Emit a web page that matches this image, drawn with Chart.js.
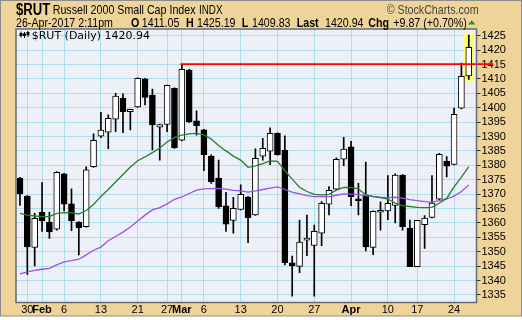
<!DOCTYPE html>
<html>
<head>
<meta charset="utf-8">
<script src="https://cdn.jsdelivr.net/npm/chart.js@4.4.1/dist/chart.umd.min.js"></script>
<style>
  html, body { margin: 0; padding: 0; background: #fff; }
  #wrap { width: 522px; height: 320px; }
</style>
</head>
<body>
<div id="wrap"><canvas id="rut-chart" width="522" height="320"></canvas></div>
<script>
// =============================
// $RUT DAILY CANDLES
// =============================
const dates = ['Jan 27','Jan 30','Jan 31','Feb 1','Feb 2','Feb 3','Feb 6','Feb 7','Feb 8','Feb 9','Feb 10',
    'Feb 13','Feb 14','Feb 15','Feb 16','Feb 17','Feb 21','Feb 22','Feb 23','Feb 24','Feb 27','Feb 28',
    'Mar 1','Mar 2','Mar 3','Mar 6','Mar 7','Mar 8','Mar 9','Mar 10','Mar 13','Mar 14','Mar 15','Mar 16','Mar 17',
    'Mar 20','Mar 21','Mar 22','Mar 23','Mar 24','Mar 27','Mar 28','Mar 29','Mar 30','Mar 31',
    'Apr 3','Apr 4','Apr 5','Apr 6','Apr 7','Apr 10','Apr 11','Apr 12','Apr 13',
    'Apr 17','Apr 18','Apr 19','Apr 20','Apr 21','Apr 24','Apr 25','Apr 26'];

const opens = [1375.6,1369.3,1351.5,1363.7,1360.2,1357.8,1377.0,1366.6,1360.3,1358.7,
    1379.5,1390.1,1391.5,1396.0,1403.3,1398.6,1400.3,1410.0,1404.4,1393.2,
    1394.2,1406.7,1388.7,1413.1,1395.4,1392.3,1383.2,1375.6,1365.9,1360.9,
    1364.7,1369.0,1362.8,1383.2,1384.9,1391.1,1385.3,1346.1,1344.9,1354.0,
    1352.2,1356.4,1366.5,1371.7,1382.1,1386.4,1368.4,1369.7,1351.5,1363.7,
    1364.2,1366.1,1376.6,1358.2,1344.8,1359.4,1361.9,1368.2,1381.4,1380.3,
    1399.8,1411.05];
const highs = [1375.8,1369.5,1363.3,1374.0,1363.7,1377.8,1377.2,1371.8,1360.5,1379.5,
    1390.9,1398.4,1397.5,1405.0,1404.8,1399.5,1410.4,1410.2,1406.5,1394.3,
    1407.9,1406.9,1415.1,1413.3,1398.9,1392.5,1383.6,1381.8,1370.6,1368.9,
    1373.2,1369.2,1385.7,1389.4,1393.0,1391.3,1390.2,1348.5,1361.0,1362.7,
    1359.2,1367.4,1372.6,1382.6,1389.7,1388.3,1373.7,1381.1,1364.2,1367.3,
    1376.4,1377.0,1376.8,1361.0,1360.9,1362.5,1376.4,1384.2,1383.0,1399.9,
    1415.5,1425.19];
const lows = [1366.1,1342.1,1345.1,1357.0,1354.6,1357.5,1364.2,1357.3,1348.9,1358.5,
    1379.3,1389.6,1385.8,1391.7,1391.3,1392.3,1400.1,1401.0,1385.3,1381.8,
    1391.7,1385.9,1388.5,1394.9,1390.5,1378.1,1373.7,1365.0,1357.0,1356.4,
    1364.5,1353.1,1362.6,1381.8,1380.2,1383.5,1345.4,1334.6,1342.7,1348.6,
    1334.6,1352.1,1362.8,1371.5,1379.9,1366.0,1362.8,1350.3,1349.0,1357.5,
    1361.1,1360.0,1357.5,1344.8,1344.8,1351.1,1361.7,1368.0,1376.0,1380.1,
    1399.6,1409.83];
const closes = [1370.1,1351.7,1361.6,1360.8,1356.9,1377.6,1366.5,1360.8,1358.3,1378.4,
    1388.7,1392.2,1396.3,1404.0,1398.6,1399.4,1410.2,1403.6,1394.0,1394.1,
    1407.8,1386.1,1413.3,1395.1,1393.8,1383.7,1374.3,1365.6,1359.6,1365.1,
    1369.9,1361.8,1382.4,1385.9,1391.1,1383.7,1346.2,1345.1,1353.3,1354.5,
    1357.1,1366.8,1371.3,1382.1,1385.6,1369.1,1367.7,1351.7,1364.0,1364.4,
    1366.8,1376.6,1358.7,1344.8,1360.9,1361.7,1366.9,1383.8,1379.7,1397.7,
    1410.9,1420.94];

// moving averages (green = 20 day, purple = 50 day)
const ma20 = [1363.3,1362.7,1362.4,1362.2,1362.2,1363.3,1363.6,1363.5,1363.1,1364.3,
    1366.4,1369.2,1371.6,1374.2,1376.8,1379.4,1381.6,1382.9,1384.4,1386.0,
    1388.1,1389.7,1390.5,1390.9,1391.1,1390.6,1389.1,1386.9,1385.0,1383.2,
    1381.8,1379.3,1379.8,1380.6,1381.5,1381.4,1378.2,1375.2,1372.4,1370.9,
    1369.9,1369.7,1369.9,1371.4,1372.3,1372.3,1371.8,1369.7,1369.2,1368.8,
    1368.3,1366.9,1366.0,1365.7,1365.4,1365.3,1365.4,1366.9,1368.5,1372.5,
    1375.9,1379.5];
const ma50 = [1342.3,1343.0,1343.5,1343.9,1344.2,1345.4,1346.5,1346.9,1347.4,1348.9,
    1350.5,1351.6,1353.8,1355.3,1356.8,1358.6,1360.7,1362.7,1364.5,1365.3,
    1366.6,1368.2,1369.0,1370.2,1371.4,1371.8,1371.9,1372.0,1371.7,1371.3,
    1371.1,1370.7,1371.1,1371.6,1372.1,1372.5,1371.6,1370.7,1370.1,1369.5,
    1369.1,1369.1,1369.1,1369.6,1370.1,1370.0,1369.8,1369.5,1369.1,1368.9,
    1368.8,1368.9,1368.6,1368.1,1367.7,1367.4,1367.2,1367.7,1368.3,1369.3,
    1370.9,1373.2];

// x axis labels
const tickDates = ['Jan 30','Feb 1','Feb 6','Feb 13','Feb 21','Feb 27','Mar 1','Mar 6','Mar 13','Mar 20','Mar 27','Apr 3','Apr 10','Apr 17','Apr 24'];
const tickText = ['30','Feb','6','13','21','27','Mar','6','13','20','27','Apr','10','17','24'];
const monthText = ['Feb','Mar','Apr'];
// y axis labels
const yTicks = [1335,1340,1345,1350,1355,1360,1365,1370,1375,1380,1385,1390,1395,1400,1405,1410,1415,1420,1425];

// resistance line at the Mar 1 high, drawn from just before Mar 1 to past the last day
const resistDay = 'Mar 1';
const resistFrom = -0.2;   // days relative to resistDay
const resistTo = 64.3;
const chgText = '+9.87 (+0.70%)';

const SANS = '"Liberation Sans", Arial, sans-serif';
const SQUEEZE = 0.82;   // no narrow face installed, so header text is squeezed
const gridColor = 'rgb(172, 222, 236)';

const tickIdx = tickDates.map(d => dates.indexOf(d));
const last = dates.length - 1;
const resistIdx = dates.indexOf(resistDay);
const resistLevel = highs[resistIdx];

const bodies = dates.map((d, i) => ({ x: i, y: [opens[i], closes[i]] }));
const wicks = dates.map((d, i) => ({ x: i, y: [lows[i], highs[i]] }));
const bodyFill = dates.map((d, i) => closes[i] >= opens[i] ? '#ffffff' : '#000000');

const framePlugin = {
    id: 'frame',
    beforeDraw(chart) {
        const { ctx, chartArea: a, width, height } = chart;
        ctx.save();
        ctx.fillStyle = '#ffffff';
        ctx.fillRect(0, 0, width, height);
        ctx.fillStyle = '#efd49a';
        ctx.fillRect(0, 0, width, 316);
        ctx.strokeStyle = '#8c8c8c';
        ctx.lineWidth = 1;
        ctx.strokeRect(0.5, 0.5, width - 1, 315.5);
        ctx.fillStyle = '#eef0f8';
        ctx.fillRect(a.left, a.top, a.right - a.left, a.bottom - a.top);
        ctx.restore();
    },
    afterDraw(chart) {
        const { ctx, chartArea: a } = chart;
        ctx.save();
        // plot border
        ctx.strokeStyle = '#666a78';
        ctx.lineWidth = 1.5;
        ctx.strokeRect(a.left, a.top, a.right - a.left, a.bottom - a.top);

        const put = (s, x, y, font, color, squeeze) => {
            ctx.save();
            ctx.font = font;
            ctx.fillStyle = color || '#000';
            ctx.translate(x, y);
            ctx.scale(squeeze || SQUEEZE, 1);
            ctx.fillText(s, 0, 0);
            ctx.restore();
        };
        ctx.textBaseline = 'alphabetic';
        ctx.textAlign = 'left';
        // header line 1
        put('$RUT', 16, 14.5, 'bold 16px ' + SANS);
        put('Russell 2000 Small Cap Index', 52.7, 13.5, '13px ' + SANS);
        put('INDX', 199, 13.5, '12px ' + SANS);
        put('\u00a9 StockCharts.com', 386.7, 13.5, '13px ' + SANS, '#444');
        // header line 2
        const y2 = 26.7;
        put('26-Apr-2017 2:11pm', 16, y2, '13px ' + SANS);
        put('O', 131, y2, 'bold 13px ' + SANS);
        put(opens[last].toFixed(2), 141.7, y2, '13px ' + SANS);
        put('H', 186, y2, 'bold 13px ' + SANS);
        put(highs[last].toFixed(2), 197, y2, '13px ' + SANS);
        put('L', 241.7, y2, 'bold 13px ' + SANS);
        put(lows[last].toFixed(2), 252, y2, '13px ' + SANS);
        put('Last', 296.7, y2, 'bold 13px ' + SANS);
        put(closes[last].toFixed(2), 325, y2, '13px ' + SANS);
        put('Chg', 368.3, y2, 'bold 13px ' + SANS);
        put(chgText, 393.3, y2, '13px ' + SANS);
        ctx.fillStyle = '#2e8b3a';
        ctx.beginPath();
        ctx.moveTo(468, 24.5);
        ctx.lineTo(475.5, 24.5);
        ctx.lineTo(471.75, 20.3);
        ctx.closePath();
        ctx.fill();

        // inner label with small candle icon
        ctx.fillStyle = '#000';
        ctx.fillRect(20.5, 31.5, 1, 6);
        ctx.fillRect(19.5, 33, 3, 3);
        ctx.fillRect(24, 32, 1, 6);
        ctx.fillRect(23, 33.5, 3, 2.5);
        ctx.fillRect(27.5, 31, 1, 6);
        ctx.fillRect(26.5, 32, 3, 3);
        put('$RUT (Daily) ' + closes[last].toFixed(2), 31.7, 38.6, '11px "DejaVu Sans", sans-serif', '#000', 1);
        ctx.restore();
    }
};

new Chart(document.getElementById('rut-chart').getContext('2d'), {
    type: 'bar',
    data: {
        datasets: [
            {
                type: 'line',
                label: 'MA(20)',
                data: ma20.map((v, i) => ({ x: i, y: v })),
                borderColor: '#2a7d2e',
                borderWidth: 1.3,
                pointRadius: 0,
                tension: 0,
                order: 0
            },
            {
                type: 'line',
                label: 'MA(50)',
                data: ma50.map((v, i) => ({ x: i, y: v })),
                borderColor: '#9d4fe6',
                borderWidth: 1.3,
                pointRadius: 0,
                tension: 0,
                order: 0
            },
            {
                type: 'line',
                label: 'Resistance',
                data: [
                    { x: resistIdx + resistFrom, y: resistLevel },
                    { x: resistTo, y: resistLevel }
                ],
                borderColor: '#ff0000',
                borderWidth: 1.7,
                pointRadius: 0,
                clip: false,
                order: 0
            },
            {
                label: 'Body',
                data: bodies,
                backgroundColor: bodyFill,
                borderColor: '#000',
                borderWidth: 1,
                borderSkipped: false,
                barThickness: 6,
                minBarLength: 2,
                grouped: false,
                order: 1
            },
            {
                label: 'Wick',
                data: wicks,
                backgroundColor: '#000',
                borderWidth: 0,
                barThickness: 1,
                grouped: false,
                order: 2
            },
            {
                label: 'Highlight',
                data: [{ x: last, y: [lows[last] - 0.7, highs[last] + 0.4] }],
                backgroundColor: '#ffff66',
                borderWidth: 0,
                barThickness: 9,
                grouped: false,
                order: 3
            }
        ]
    },
    options: {
        responsive: false,
        animation: false,
        events: [],
        layout: { padding: { left: 16, top: 29, right: 0, bottom: 0 } },
        plugins: {
            legend: { display: false },
            tooltip: { enabled: false }
        },
        scales: {
            x: {
                type: 'linear',
                min: -0.54,
                max: 62.05,
                offset: false,
                afterBuildTicks: s => { s.ticks = tickIdx.map(v => ({ value: v })); },
                afterFit: s => { s.height = 17.5; },
                ticks: {
                    autoSkip: false,
                    maxRotation: 0,
                    padding: 1,
                    color: '#000',
                    callback: (v, i) => tickText[i],
                    font: c => ({
                        family: SANS,
                        size: 11,
                        weight: monthText.includes(tickText[c.index]) ? 'bold' : 'normal'
                    })
                },
                grid: { color: gridColor, drawTicks: false, offset: false },
                border: { display: false }
            },
            y: {
                position: 'right',
                min: 1332.36,
                max: 1427.33,
                afterBuildTicks: s => { s.ticks = yTicks.map(v => ({ value: v })); },
                afterFit: s => { s.width = 45.5; },
                ticks: {
                    autoSkip: false,
                    padding: 1,
                    color: '#000',
                    font: { family: SANS, size: 11 },
                    callback: v => String(v)
                },
                grid: { color: gridColor, tickLength: 4, tickColor: '#333' },
                border: { display: false }
            }
        }
    },
    plugins: [framePlugin]
});
</script>
</body>
</html>
